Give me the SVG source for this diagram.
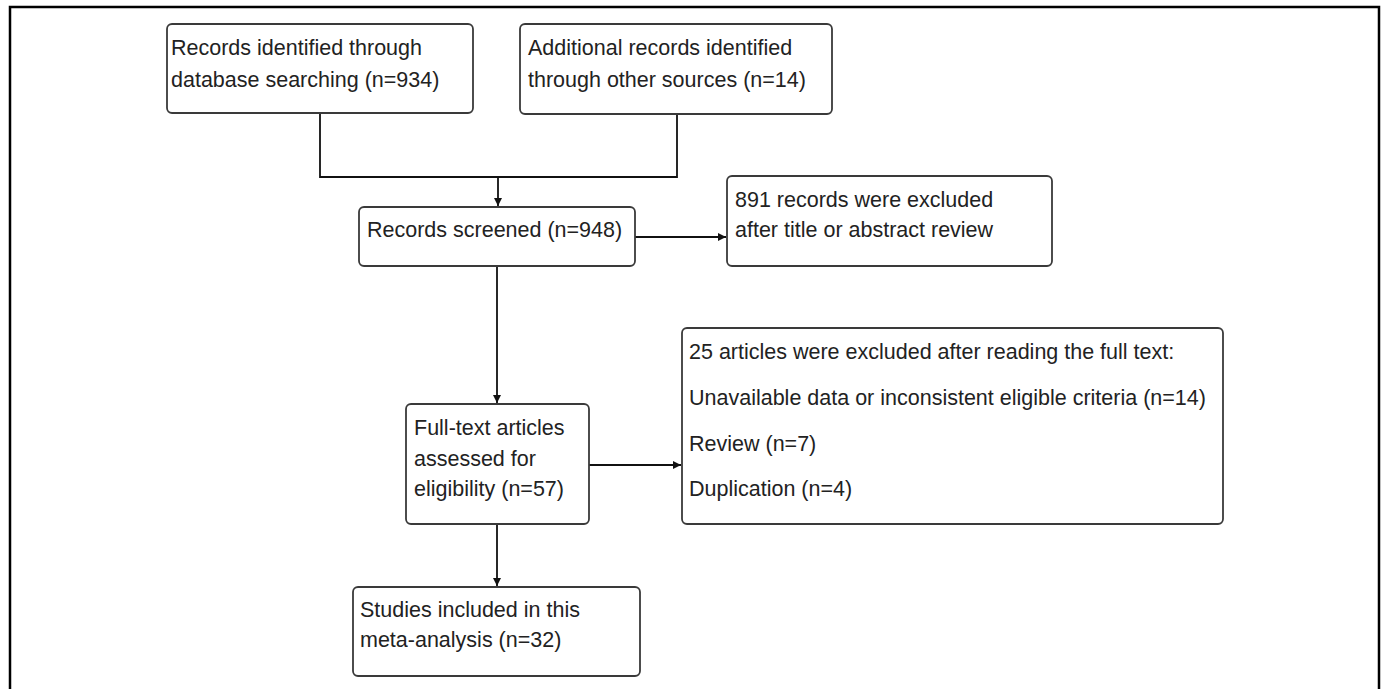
<svg xmlns="http://www.w3.org/2000/svg" width="1381" height="689" viewBox="0 0 1381 689">
<style>
.box{fill:#fff;stroke:#3a3a3a;stroke-width:1.8}
.t{font-family:"Liberation Sans",Arial,sans-serif;font-size:21.5px;fill:#222}
.c{fill:none;stroke:#111;stroke-width:1.8}
</style>
<defs>
<marker id="ah" viewBox="0 0 10 10" refX="10" refY="5" markerWidth="9" markerHeight="8" markerUnits="userSpaceOnUse" orient="auto">
<path d="M0,0 L10,5 L0,10 z" fill="#111"/>
</marker>
</defs>
<rect x="0" y="0" width="1381" height="689" fill="#fff"/>
<path d="M10,700 L10,7 L1379,7 L1379,700" fill="none" stroke="#000" stroke-width="2.5"/>
<g id="connectors">
<path class="c" d="M320,113 V177 H677 V114"/>
<path class="c" d="M498,177 V206" marker-end="url(#ah)"/>
<path class="c" d="M635,237 H726" marker-end="url(#ah)"/>
<path class="c" d="M497,266 V403" marker-end="url(#ah)"/>
<path class="c" d="M589,465 H681" marker-end="url(#ah)"/>
<path class="c" d="M497,524 V586" marker-end="url(#ah)"/>
</g>
<g id="n1">
<rect class="box" x="167" y="24" width="306" height="89" rx="5"/>
<text class="t" x="171" y="55">Records identified through</text>
<text class="t" x="171" y="87">database searching (n=934)</text>
</g>
<g id="n2">
<rect class="box" x="520" y="24" width="312" height="90" rx="5"/>
<text class="t" x="528" y="55">Additional records identified</text>
<text class="t" x="528" y="87">through other sources (n=14)</text>
</g>
<g id="n3">
<rect class="box" x="359" y="207" width="276" height="59" rx="5"/>
<text class="t" x="367" y="237">Records screened (n=948)</text>
</g>
<g id="n4">
<rect class="box" x="727" y="176" width="325" height="90" rx="5"/>
<text class="t" x="735" y="207">891 records were excluded</text>
<text class="t" x="735" y="237">after title or abstract review</text>
</g>
<g id="n5">
<rect class="box" x="406" y="404" width="183" height="120" rx="5"/>
<text class="t" x="414" y="435">Full-text articles</text>
<text class="t" x="414" y="466">assessed for</text>
<text class="t" x="414" y="496">eligibility (n=57)</text>
</g>
<g id="n6">
<rect class="box" x="682" y="328" width="541" height="196" rx="5"/>
<text class="t" x="689" y="359">25 articles were excluded after reading the full text:</text>
<text class="t" x="689" y="405">Unavailable data or inconsistent eligible criteria (n=14)</text>
<text class="t" x="689" y="451">Review (n=7)</text>
<text class="t" x="689" y="496">Duplication (n=4)</text>
</g>
<g id="n7">
<rect class="box" x="353" y="587" width="287" height="89" rx="5"/>
<text class="t" x="360" y="617">Studies included in this</text>
<text class="t" x="360" y="647">meta-analysis (n=32)</text>
</g>
</svg>
